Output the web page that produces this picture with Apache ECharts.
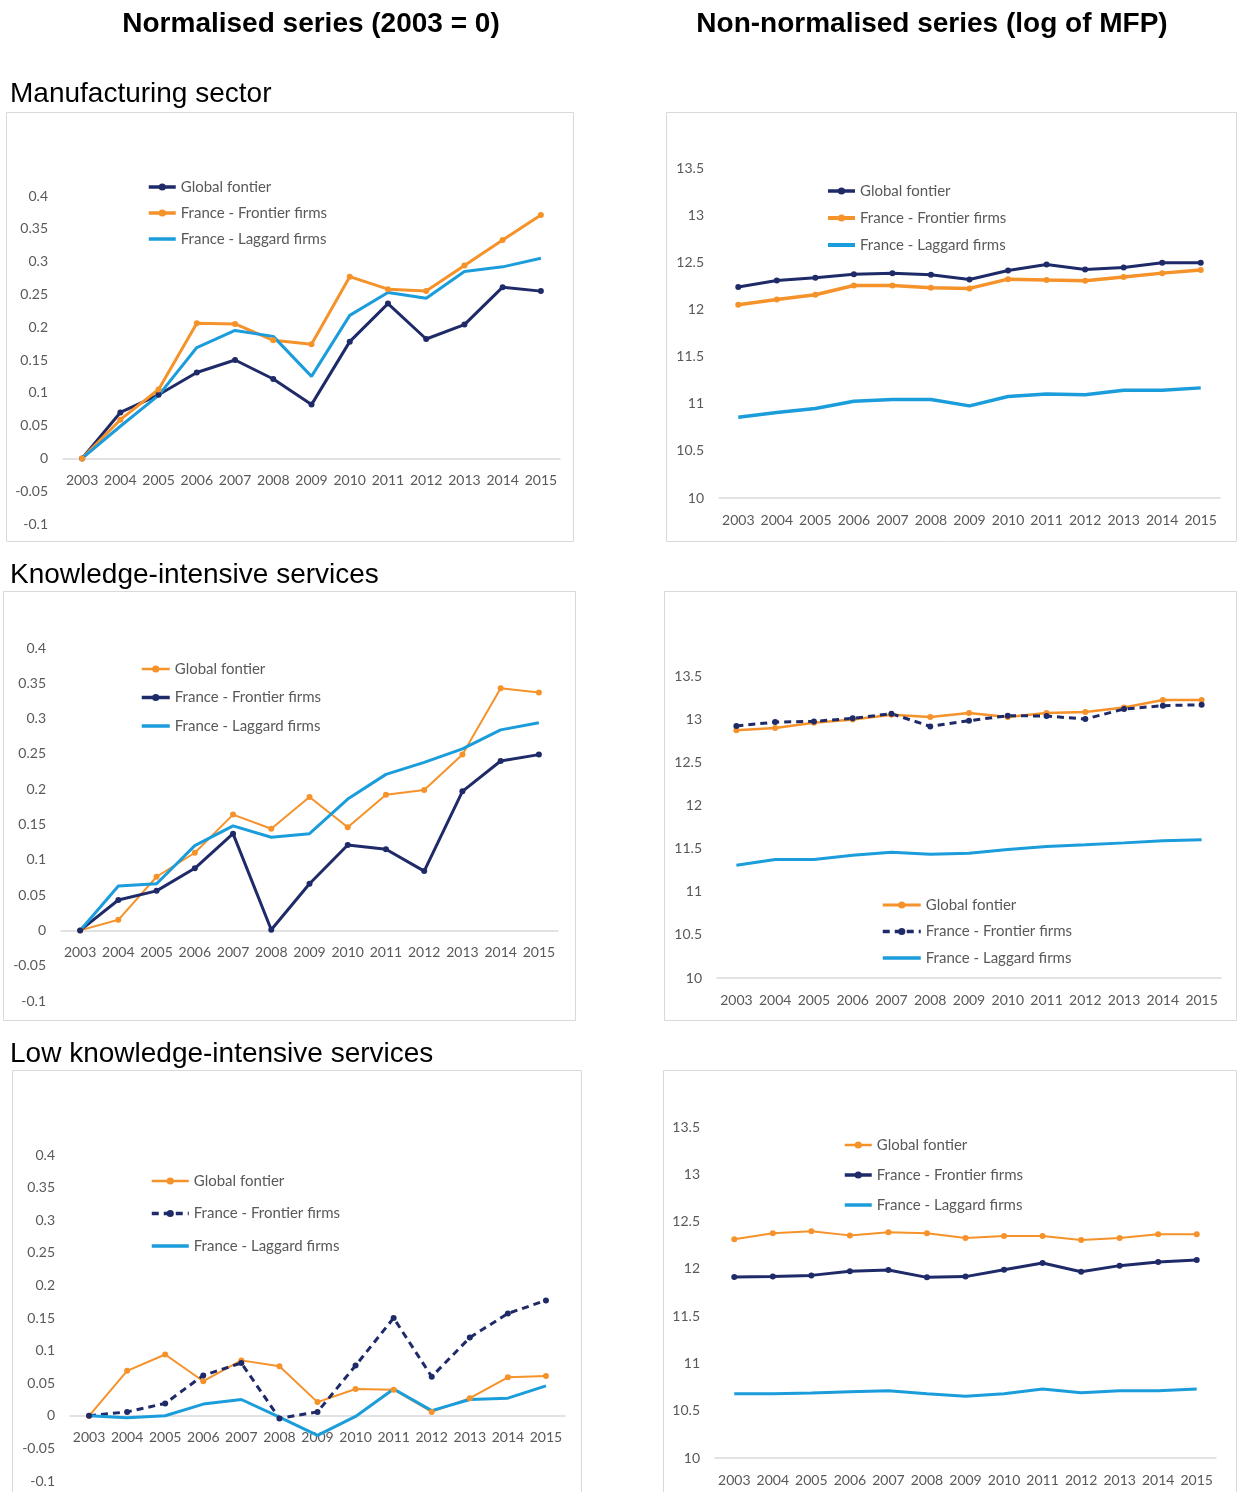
<!DOCTYPE html>
<html>
<head>
<meta charset="utf-8">
<title>MFP: frontier vs laggard firms</title>
<script src="https://cdn.jsdelivr.net/npm/echarts@6/dist/echarts.min.js"></script>
<style>
  html, body { margin: 0; padding: 0; background: #fff; }
  #chart { width: 1240px; height: 1492px; }
</style>
</head>
<body>
<div id="chart"></div>
<script>
// years on the x axis
const years = ['2003', '2004', '2005', '2006', '2007', '2008', '2009', '2010', '2011', '2012', '2013', '2014', '2015'];

// Manufacturing sector
const mfgNormGlobal   = [0, 0.070, 0.097, 0.131, 0.150, 0.121, 0.082, 0.178, 0.236, 0.182, 0.204, 0.261, 0.255];
const mfgNormFrontier = [0, 0.059, 0.105, 0.206, 0.205, 0.180, 0.174, 0.277, 0.258, 0.255, 0.294, 0.333, 0.371];
const mfgNormLaggard  = [0, 0.049, 0.096, 0.169, 0.195, 0.186, 0.125, 0.218, 0.253, 0.244, 0.285, 0.292, 0.305];
const mfgLogGlobal    = [12.237, 12.307, 12.336, 12.374, 12.385, 12.367, 12.318, 12.413, 12.477, 12.424, 12.445, 12.494, 12.494];
const mfgLogFrontier  = [12.050, 12.106, 12.156, 12.254, 12.254, 12.230, 12.223, 12.321, 12.311, 12.304, 12.343, 12.385, 12.417];
const mfgLogLaggard   = [10.857, 10.906, 10.949, 11.026, 11.044, 11.044, 10.977, 11.076, 11.104, 11.094, 11.143, 11.143, 11.168];

// Knowledge-intensive services
const kisNormGlobal   = [0, 0.015, 0.076, 0.110, 0.164, 0.144, 0.189, 0.146, 0.192, 0.199, 0.249, 0.343, 0.337];
const kisNormFrontier = [0, 0.043, 0.056, 0.088, 0.137, 0.001, 0.066, 0.121, 0.115, 0.084, 0.197, 0.240, 0.249];
const kisNormLaggard  = [0, 0.063, 0.066, 0.120, 0.148, 0.132, 0.137, 0.186, 0.221, 0.238, 0.257, 0.284, 0.294];
const kisLogGlobal    = [12.870, 12.897, 12.959, 12.997, 13.051, 13.024, 13.071, 13.024, 13.071, 13.082, 13.136, 13.222, 13.222];
const kisLogFrontier  = [12.920, 12.966, 12.974, 13.009, 13.063, 12.916, 12.982, 13.040, 13.036, 13.001, 13.117, 13.156, 13.167];
const kisLogLaggard   = [11.307, 11.373, 11.373, 11.423, 11.458, 11.435, 11.447, 11.489, 11.524, 11.543, 11.566, 11.590, 11.601];

// Low knowledge-intensive services
const lkisNormGlobal   = [0, 0.069, 0.094, 0.053, 0.085, 0.076, 0.021, 0.041, 0.040, 0.006, 0.027, 0.059, 0.061];
const lkisNormFrontier = [0, 0.006, 0.019, 0.062, 0.081, -0.004, 0.006, 0.077, 0.150, 0.060, 0.120, 0.157, 0.177];
const lkisNormLaggard  = [0, -0.003, 0.000, 0.018, 0.025, -0.002, -0.030, -0.001, 0.041, 0.008, 0.025, 0.027, 0.046];
const lkisLogGlobal    = [12.312, 12.376, 12.397, 12.354, 12.386, 12.376, 12.326, 12.347, 12.347, 12.305, 12.326, 12.365, 12.365];
const lkisLogFrontier  = [11.914, 11.918, 11.931, 11.974, 11.988, 11.910, 11.918, 11.991, 12.062, 11.970, 12.034, 12.073, 12.094];
const lkisLogLaggard   = [10.680, 10.680, 10.687, 10.701, 10.712, 10.680, 10.652, 10.680, 10.729, 10.691, 10.712, 10.712, 10.729];

const NAVY = '#1f2a68';
const ORANGE = '#f5922a';
const BLUE = '#1b9ddb';
const TICK = '#595959';
const FONT = 'Lato, "Open Sans", sans-serif';

// one entry per panel: grid box [left, top, width, height], axis range, legend spot
const panels = [
  { grid: [63, 196, 497, 328], min: -0.1, max: 0.4, step: 0.05, legend: [147, 179], gap: 10, icon: 27,
    series: [
      { name: 'Global fontier', data: mfgNormGlobal, color: NAVY, width: 3, dot: true },
      { name: 'France - Frontier firms', data: mfgNormFrontier, color: ORANGE, width: 3, dot: true },
      { name: 'France - Laggard firms', data: mfgNormLaggard, color: BLUE, width: 3 }
    ] },
  { grid: [719, 168, 501, 330], min: 10, max: 13.5, step: 0.5, legend: [826, 183], gap: 11, icon: 27,
    series: [
      { name: 'Global fontier', data: mfgLogGlobal, color: NAVY, width: 3, dot: true },
      { name: 'France - Frontier firms', data: mfgLogFrontier, color: ORANGE, width: 3.5, dot: true },
      { name: 'France - Laggard firms', data: mfgLogLaggard, color: BLUE, width: 3.5 }
    ] },
  { grid: [61, 648, 497, 353], min: -0.1, max: 0.4, step: 0.05, legend: [140, 661], gap: 12.5, icon: 28,
    series: [
      { name: 'Global fontier', data: kisNormGlobal, color: ORANGE, width: 2, dot: true },
      { name: 'France - Frontier firms', data: kisNormFrontier, color: NAVY, width: 3, dot: true },
      { name: 'France - Laggard firms', data: kisNormLaggard, color: BLUE, width: 3 }
    ] },
  { grid: [717, 676, 504, 302], min: 10, max: 13.5, step: 0.5, legend: [881, 897], gap: 10.5, icon: 38,
    series: [
      { name: 'Global fontier', data: kisLogGlobal, color: ORANGE, width: 2.5, dot: true },
      { name: 'France - Frontier firms', data: kisLogFrontier, color: NAVY, width: 3, dot: true, dash: true },
      { name: 'France - Laggard firms', data: kisLogLaggard, color: BLUE, width: 3 }
    ] },
  { grid: [70, 1155, 495, 326], min: -0.1, max: 0.4, step: 0.05, legend: [150, 1173], gap: 16.5, icon: 37,
    series: [
      { name: 'Global fontier', data: lkisNormGlobal, color: ORANGE, width: 2, dot: true },
      { name: 'France - Frontier firms', data: lkisNormFrontier, color: NAVY, width: 3, dot: true, dash: true },
      { name: 'France - Laggard firms', data: lkisNormLaggard, color: BLUE, width: 3 }
    ] },
  { grid: [715, 1127, 501, 331], min: 10, max: 13.5, step: 0.5, legend: [843, 1137], gap: 14, icon: 27,
    series: [
      { name: 'Global fontier', data: lkisLogGlobal, color: ORANGE, width: 2, dot: true },
      { name: 'France - Frontier firms', data: lkisLogFrontier, color: NAVY, width: 3, dot: true },
      { name: 'France - Laggard firms', data: lkisLogLaggard, color: BLUE, width: 3 }
    ] }
];

// panel frames (x, y, w, h)
const frames = [
  [6, 112, 567, 429], [666, 112, 570, 429],
  [3, 591, 572, 429], [664, 591, 572, 429],
  [12, 1070, 569, 430], [663, 1070, 573, 430]
];

const chart = echarts.init(document.getElementById('chart'), null, { renderer: 'canvas' });

const grid = [], xAxis = [], yAxis = [], legend = [], series = [];

panels.forEach((p, i) => {
  const h = p.grid[3];
  // the category axis sits on the zero line when zero is in range
  const zeroUp = p.min < 0 ? (0 - p.min) / (p.max - p.min) * h : 0;
  grid.push({ left: p.grid[0], top: p.grid[1], width: p.grid[2], height: h, containLabel: false });
  xAxis.push({
    type: 'category', gridIndex: i, data: years, boundaryGap: true,
    position: 'bottom', offset: -zeroUp,
    axisLine: { onZero: false, lineStyle: { color: '#d9d9d9', width: 1.5 } },
    axisTick: { show: false },
    axisLabel: { color: TICK, fontFamily: FONT, fontSize: 14, margin: 15, interval: 0 },
    splitLine: { show: false }
  });
  yAxis.push({
    type: 'value', gridIndex: i, min: p.min, max: p.max, interval: p.step,
    axisLine: { show: false }, axisTick: { show: false },
    splitLine: { show: false },
    axisLabel: { color: TICK, fontFamily: FONT, fontSize: 14, margin: 15 }
  });
  legend.push({
    orient: 'vertical', left: p.legend[0], top: p.legend[1], padding: 0,
    itemWidth: p.icon, itemHeight: 9, itemGap: p.gap,
    data: p.series.map(s => ({
      name: 'p' + i + '|' + s.name,
      lineStyle: { width: s.width + 0.5 },
      // laggard lines have no markers, so hide the legend dot
      itemStyle: s.dot ? undefined : { color: 'rgba(0,0,0,0)', borderWidth: 0 }
    })),
    formatter: n => n.split('|')[1],
    textStyle: { color: TICK, fontFamily: FONT, fontSize: 15, lineHeight: 16 },
    selectedMode: false
  });
  p.series.forEach(s => {
    series.push({
      name: 'p' + i + '|' + s.name, type: 'line', xAxisIndex: i, yAxisIndex: i,
      data: s.data, color: s.color,
      symbol: s.dot ? 'circle' : 'none', symbolSize: 6, showSymbol: !!s.dot,
      lineStyle: { width: s.width, type: s.dash ? [7, 5] : 'solid', color: s.color },
      itemStyle: { color: s.color },
      animation: false
    });
  });
});

const headings = [
  { text: 'Normalised series (2003 = 0)', x: 311, y: 24, bold: true },
  { text: 'Non-normalised series (log of MFP)', x: 932, y: 24, bold: true },
  { text: 'Manufacturing sector', x: 10, y: 94 },
  { text: 'Knowledge-intensive services', x: 10, y: 575 },
  { text: 'Low knowledge-intensive services', x: 10, y: 1054 }
];

const graphic = frames.map(f => ({
  type: 'rect', silent: true, z: -1,
  shape: { x: f[0] + 0.5, y: f[1] + 0.5, width: f[2], height: f[3] },
  style: { fill: '#fff', stroke: '#d9d9d9', lineWidth: 1 }
})).concat(headings.map(h => ({
  type: 'text', silent: true,
  x: h.x, y: h.y,
  style: {
    text: h.text, fill: '#000',
    font: (h.bold ? 'bold 28px' : '28px') + ' "Liberation Sans", Arial, sans-serif',
    textAlign: h.bold ? 'center' : 'left', textVerticalAlign: 'middle'
  }
})));

chart.setOption({
  animation: false,
  backgroundColor: '#fff',
  grid, xAxis, yAxis, legend, series, graphic
});
</script>
</body>
</html>
